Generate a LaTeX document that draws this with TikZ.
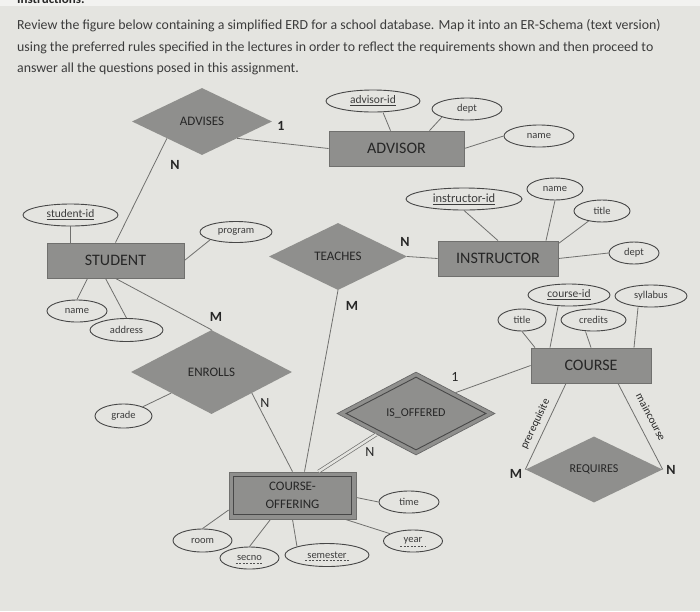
\documentclass[tikz,border=0pt]{standalone}
\usepackage{fontspec}
\setmainfont{Carlito}
\usetikzlibrary{shapes.geometric}
\definecolor{bg}{RGB}{228,228,224}
\definecolor{topbg}{RGB}{242,242,240}
\definecolor{shp}{RGB}{143,143,141}
\definecolor{ln}{RGB}{112,112,110}
\definecolor{ink}{RGB}{38,38,38}
\begin{document}
\begin{tikzpicture}[x=1pt,y=-1pt,
  ent/.style={rectangle,fill=shp,draw=ln,line width=0.8pt,inner sep=0pt,text=ink,font=\fontsize{16}{18}\selectfont},
  rel/.style={diamond,fill=shp,inner sep=0pt,text=ink,font=\fontsize{13}{15}\selectfont},
  attr/.style={ellipse,draw=ink!85,line width=0.9pt,fill=bg,inner sep=0pt,minimum height=22pt,text=ink!90,font=\fontsize{10.5}{12}\selectfont},
  keyfont/.style={font=\fontsize{11.5}{13}\selectfont},
  conn/.style={draw=ln,line width=0.8pt},
  card/.style={text=ink,font=\fontsize{14}{16}\selectfont\bfseries,inner sep=0pt},
  cardr/.style={text=ink,font=\fontsize{14}{16}\selectfont,inner sep=0pt},
  rolel/.style={text=ink,font=\fontsize{11}{13}\selectfont,inner sep=0pt},
  paraline/.style={anchor=base west,inner sep=0pt,text=ink!90,font=\fontsize{13.85}{16}\selectfont}]
\useasboundingbox (0,0) rectangle (700,611);
\clip (0,0) rectangle (700,611);
\fill[bg] (0,0) rectangle (700,611);
\fill[topbg] (0,0) rectangle (700,6);
\node[anchor=base west,inner sep=0pt,text=ink,font=\fontsize{13}{15}\selectfont\bfseries] (instr) at (17,3) {Instructions:};
\node[paraline] (para1) at (17,29.5) {Review the figure below containing a simplified ERD for a school database. Map it into an ER-Schema (text version)};
\node[paraline] (para2) at (17,51.5) {using the preferred rules specified in the lectures in order to reflect the requirements shown and then proceed to};
\node[paraline] (para3) at (17,72.5) {answer all the questions posed in this assignment.};

% entities
\node[ent,minimum width=137pt,minimum height=35pt] (student) at (115.5,260.5) {STUDENT};
\node[ent,minimum width=135pt,minimum height=35pt] (advisor) at (396.5,148.5) {ADVISOR};
\node[ent,minimum width=120pt,minimum height=35pt] (instructor) at (498,258.5) {INSTRUCTOR};
\node[ent,minimum width=120pt,minimum height=35pt] (course) at (591,365.5) {COURSE};
\node[ent,minimum width=127pt,minimum height=47pt] (co) at (292.5,495.5) {};
\node[rectangle,draw=ink!85,line width=0.9pt,minimum width=118pt,minimum height=38pt,inner sep=0pt,align=center,text=ink,font=\fontsize{13}{18}\selectfont] (coin) at (292.5,495.5) {COURSE-\\OFFERING};

% relationships
\node[rel,minimum width=140pt,minimum height=67pt] (advises) at (202,121.5) {ADVISES};
\node[rel,minimum width=138pt,minimum height=67pt] (teaches) at (338,256.5) {TEACHES};
\node[rel,minimum width=161pt,minimum height=84pt] (enrolls) at (211.5,372) {ENROLLS};
\node[rel,minimum width=137pt,minimum height=66pt,font=\fontsize{12}{14}\selectfont] (requires) at (594,469.5) {REQUIRES};
\node[rel,draw=ink!70,line width=0.7pt,minimum width=158pt,minimum height=83pt] (isoff) at (416,413.5) {};
\node[diamond,draw=ink!85,line width=0.9pt,inner sep=0pt,minimum width=140pt,minimum height=73pt,text=ink,font=\fontsize{12}{14}\selectfont] (isoffin) at (416,413.5) {IS\_OFFERED};

% attributes
\node[attr,keyfont,minimum width=94pt] (advid) at (373,101) {\underline{advisor-id}};
\node[attr,minimum width=70pt] (adept) at (467,109) {dept};
\node[attr,minimum width=70pt] (aname) at (539,136) {name};
\node[attr,keyfont,minimum width=95pt] (sid) at (70.5,215) {\underline{student-id}};
\node[attr,minimum width=72pt,minimum height=21pt] (program) at (236,232) {program};
\node[attr,minimum width=116pt,font=\fontsize{12.5}{14}\selectfont] (iid) at (464,199) {\underline{instructor-id}};
\node[attr,minimum width=56pt] (iname) at (555,189) {name};
\node[attr,minimum width=56pt] (ititle) at (602,211) {title};
\node[attr,minimum width=50pt] (idept) at (634,253) {dept};
\node[attr,minimum width=60pt] (sname) at (77,311) {name};
\node[attr,minimum width=73pt,minimum height=23pt] (address) at (126.5,330) {address};
\node[attr,minimum width=57pt,minimum height=24pt] (grade) at (123.5,416) {grade};
\node[attr,keyfont,minimum width=82pt] (cid) at (569,295) {\underline{course-id}};
\node[attr,minimum width=72pt] (syl) at (651,296) {syllabus};
\node[attr,minimum width=48pt] (ctitle) at (522,320) {title};
\node[attr,minimum width=65pt] (credits) at (593.5,320) {credits};
\node[attr,minimum width=60pt] (time) at (409,502) {time};
\node[attr,minimum width=59pt,minimum height=23pt] (room) at (202.5,540.5) {room};
\node[attr,minimum width=59pt] (secno) at (249.5,558) {secno};
\node[attr,minimum width=84pt,minimum height=23pt] (semester) at (327,555) {semester};
\node[attr,minimum width=59pt] (year) at (413,541) {year};
\draw[ink!80,line width=0.6pt,dash pattern=on 2pt off 1.5pt] ([xshift=-14pt,yshift=-5pt]secno.center) -- ([xshift=14pt,yshift=-5pt]secno.center);
\draw[ink!80,line width=0.6pt,dash pattern=on 2pt off 1.5pt] ([xshift=-22pt,yshift=-5pt]semester.center) -- ([xshift=22pt,yshift=-5pt]semester.center);
\draw[ink!80,line width=0.6pt,dash pattern=on 2pt off 1.5pt] ([xshift=-13pt,yshift=-5pt]year.center) -- ([xshift=13pt,yshift=-5pt]year.center);

% connectors
\draw[conn] (advises.south east) -- (advisor.west);
\draw[conn] (advises.south west) -- (student.north);
\draw[conn] ([xshift=10pt]advid.south) -- ([xshift=-6pt]advisor.north);
\draw[conn] (adept.south west) -- ([xshift=33pt]advisor.north);
\draw[conn] (aname.west) -- (advisor.east);
\draw[conn] (sid.south) -- ([xshift=-45pt]student.north);
\draw[conn] (program.south west) -- (student.east);
\draw[conn] (teaches.east) -- (instructor.west);
\draw[conn] (teaches.south) -- ([xshift=12pt]co.north);
\draw[conn] (iid.south) -- (instructor.north);
\draw[conn] (iname.south) -- ([xshift=48pt]instructor.north);
\draw[conn] (ititle) -- ([yshift=-3pt]instructor.north east);
\draw[conn] (idept.west) -- (instructor.east);
\draw[conn] ([xshift=-28pt]student.south) -- (sname.north);
\draw[conn] ([xshift=-10pt]student.south) -- (address.north);
\draw[conn] (student.south) -- (enrolls.north);
\draw[conn] (enrolls.south west) -- (grade);
\draw[conn] (enrolls.south east) -- (co.north);
\draw[conn] ([xshift=-11pt]cid.south) -- ([xshift=-41pt]course.north);
\draw[conn] (ctitle.south) -- ([xshift=-56pt]course.north);
\draw[conn] ([xshift=-8pt]credits.south) -- (course.north);
\draw[conn] ([xshift=-13pt]syl.south) -- ([xshift=43pt]course.north);
\draw[conn] (course.west) -- (isoff.north east);
\draw[ln,line width=0.7pt,double=bg,double distance=2.4pt] (isoff.south west) -- ([xshift=26pt]co.north);
\draw[conn] ([xshift=-25pt]course.south) -- (requires.west);
\draw[conn] ([xshift=27pt]course.south) -- (requires.east);
\draw[conn] ([yshift=-2pt]co.east) -- (time.west);
\draw[conn] ([xshift=-11pt]co.south east) -- (year);
\draw[conn] ([yshift=-14.5pt]co.west) -- (room.north);
\draw[conn] ([xshift=-22pt]co.south) -- (secno.north);
\draw[conn] (co.south) -- (semester.north west);

% role labels
\node[rolel,rotate=64.5] (prereq) at (535.5,424) {prerequisite};
\node[rolel,rotate=-62.4] (mainc) at (651,417) {maincourse};

% cardinalities
\node[card] (c1) at (281,126) {1};
\node[card] (c2) at (175,165) {N};
\node[card] (c3) at (405,242) {N};
\node[card] (c4) at (352,306) {M};
\node[card] (c5) at (216,317) {M};
\node[cardr] (c6) at (265,403) {N};
\node[cardr] (c7) at (455,377) {1};
\node[cardr] (c8) at (370,452) {N};
\node[card] (c9) at (516,474) {M};
\node[card] (c10) at (671,470) {N};
\end{tikzpicture}
\end{document}
